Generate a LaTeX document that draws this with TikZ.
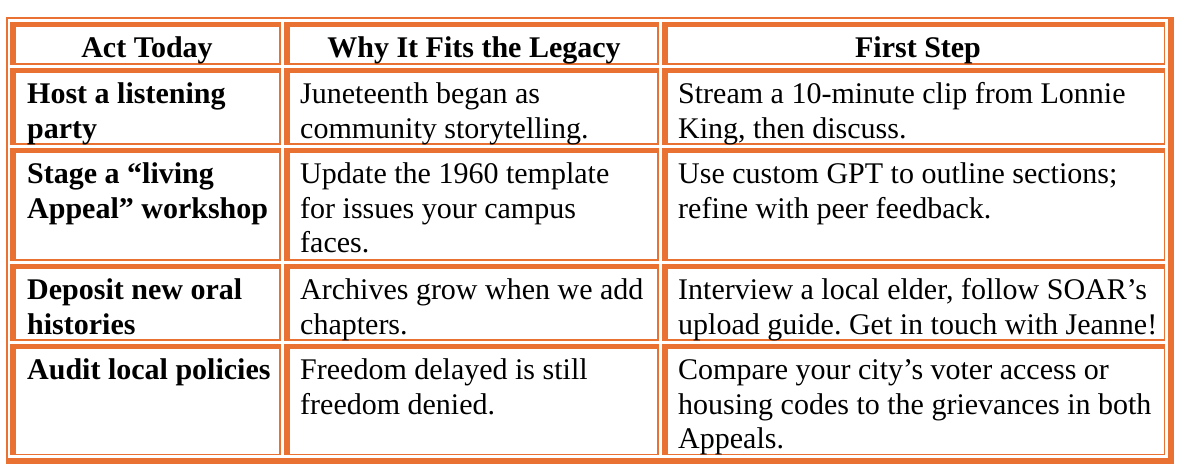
\documentclass[tikz,border=0pt]{standalone}
\usepackage{fontspec}
\setmainfont{Liberation Serif}
\frenchspacing
\definecolor{tableorange}{RGB}{233, 113, 50}
\usetikzlibrary{positioning}
\tikzset{
  bodytext/.style={anchor=north west, inner sep=0pt, align=left, font=\fontsize{30}{34.5}\selectfont},
  headtext/.style={anchor=north, inner sep=0pt, font=\fontsize{30}{34.5}\selectfont\bfseries},
  acttext/.style={bodytext, font=\fontsize{30}{34.5}\selectfont\bfseries},
}

\begin{document}
\begin{tikzpicture}[x=1pt, y=-1pt]
  \useasboundingbox (0, 0) rectangle (1184, 476);

  % outer frame: thin top/left, heavy bottom/right
  \fill[tableorange] (6, 17.3) rectangle (1174, 19);
  \fill[tableorange] (6, 17.3) rectangle (7.6, 464);
  \fill[tableorange] (1167.7, 17.3) rectangle (1174, 464);
  \fill[tableorange] (6, 457.7) rectangle (1174, 464);

  % cell borders: heavy top/left, thin bottom/right
  \foreach \xa/\xb in {10/281, 284/659, 662/1165.3}
    \foreach \ya/\yb in {22/65, 68/145.3, 148.3/261, 263.6/341, 343.6/455.3} {
      \fill[tableorange] (\xa, \ya) rectangle (\xb, \ya+5);
      \fill[tableorange] (\xa, \ya) rectangle (\xa+5.6, \yb);
      \fill[tableorange] (\xb-1.8, \ya) rectangle (\xb, \yb);
      \fill[tableorange] (\xa, \yb-1.8) rectangle (\xb, \yb);
    }

  % header row
  \node[headtext] (head-act) at (147, 33) {\strut Act Today};
  \node[headtext] (head-why) at (474, 33) {\strut Why It Fits the Legacy};
  \node[headtext] (head-step) at (918, 33) {\strut First Step};

  % listening party
  \node[acttext] (act-party) at (27, 79.2) {\strut Host a listening\\party};
  \node[bodytext] (why-party) at (300, 79.2) {\strut Juneteenth began as\\community storytelling.};
  \node[bodytext] (step-party) at (678, 79.2) {\strut Stream a 10-minute clip from Lonnie\\King, then discuss.};

  % workshop
  \node[acttext] (act-appeal) at (27, 159.2) {\strut Stage a “living\\Appeal” workshop};
  \node[bodytext] (why-appeal) at (300, 159.2) {\strut Update the 1960 template\\for issues your campus\\faces.};
  \node[bodytext] (step-appeal) at (678, 159.2) {\strut Use custom GPT to outline sections;\\refine with peer feedback.};

  % oral histories
  \node[acttext] (act-oral) at (27, 275.2) {\strut Deposit new oral\\histories};
  \node[bodytext] (why-oral) at (300, 275.2) {\strut Archives grow when we add\\chapters.};
  \node[bodytext] (step-oral) at (678, 275.2) {\strut Interview a local elder, follow SOAR’s\\upload guide. Get in touch with Jeanne!};

  % policies
  \node[acttext] (act-audit) at (27, 355.2) {\strut Audit local policies};
  \node[bodytext] (why-audit) at (300, 355.2) {\strut Freedom delayed is still\\freedom denied.};
  \node[bodytext] (step-audit) at (678, 355.2) {\strut Compare your city’s voter access or\\housing codes to the grievances in both\\Appeals.};
\end{tikzpicture}
\end{document}
